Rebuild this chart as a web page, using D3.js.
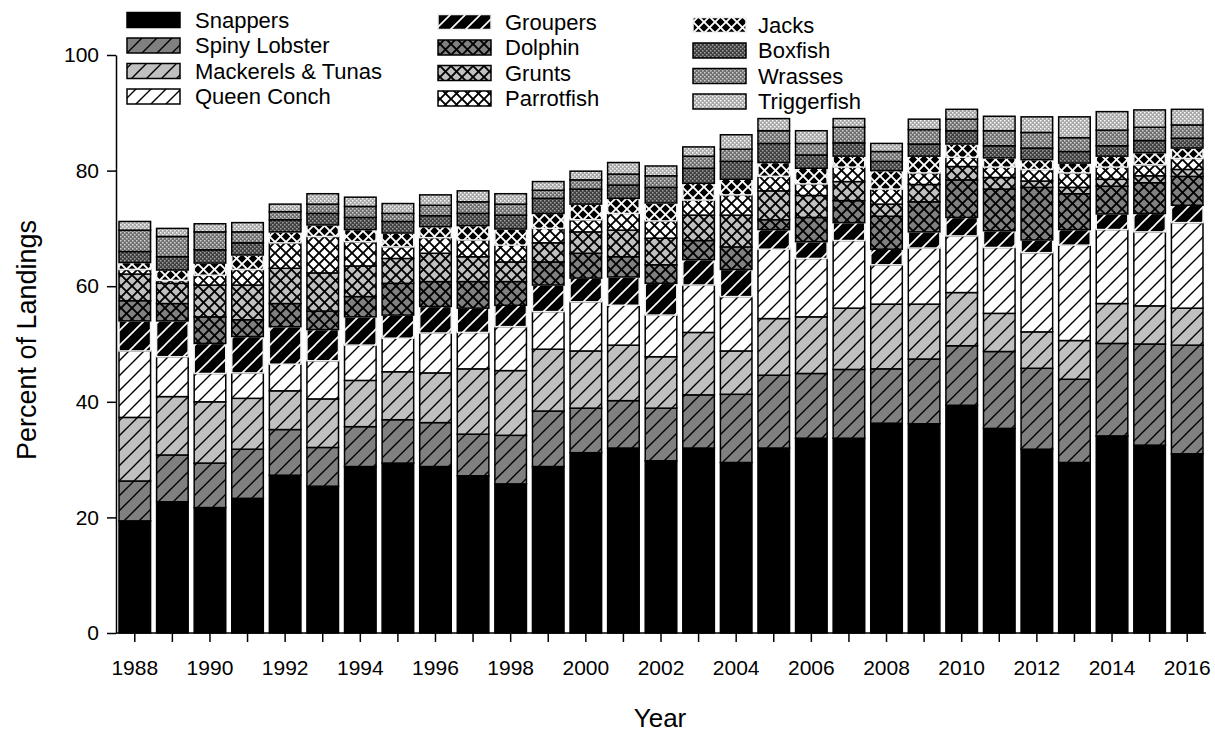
<!DOCTYPE html>
<html><head><meta charset="utf-8">
<script src="https://cdn.jsdelivr.net/npm/d3@7"></script>
<style>
html,body{margin:0;padding:0;background:#fff;}
svg{display:block;font-family:"Liberation Sans",Arial,sans-serif;}
</style></head><body>
<svg id="chart" width="1215" height="732"></svg>
<script>
// Share of total landings (%) by species group, 1988-2016
const years = [1988,1989,1990,1991,1992,1993,1994,1995,1996,1997,1998,1999,2000,2001,2002,
               2003,2004,2005,2006,2007,2008,2009,2010,2011,2012,2013,2014,2015,2016];

const snappers     = [19.4,22.7,21.7,23.3,27.3,25.4,28.8,29.4,28.8,27.2,25.8,28.8,31.2,32.0,29.8,32.0,29.5,32.0,33.7,33.7,36.3,36.2,39.4,35.4,31.8,29.5,34.1,32.5,31.0];
const spinyLobster = [6.9,8.1,7.7,8.5,7.9,6.7,6.9,7.5,7.6,7.2,8.4,9.6,7.7,8.2,9.1,9.2,11.8,12.6,11.2,11.9,9.4,11.2,10.3,13.3,14.0,14.4,16.0,17.5,18.8];
const mackerels    = [11.0,10.1,10.6,8.8,6.7,8.4,8.0,8.3,8.6,11.3,11.2,10.7,9.9,9.6,8.9,10.8,7.5,9.8,9.8,10.6,11.2,9.5,9.2,6.6,6.3,6.7,6.9,6.6,6.4];
const queenConch   = [11.5,6.9,4.9,4.4,4.6,6.6,6.1,5.8,6.9,6.3,7.6,6.5,8.5,6.9,7.2,8.2,9.4,12.0,10.1,11.7,6.8,9.7,9.8,11.4,13.7,16.5,12.8,12.8,14.8];
const groupers     = [5.2,6.2,5.2,6.3,6.5,5.4,4.9,4.0,4.6,4.2,3.7,4.6,4.1,4.9,5.5,4.4,4.7,3.4,2.9,3.1,2.7,2.8,3.2,2.9,2.2,2.7,2.7,3.2,3.0];
const dolphin      = [3.5,3.0,4.6,2.9,4.0,3.2,3.5,5.5,4.3,4.6,4.1,4.0,4.3,3.5,3.2,3.3,3.9,1.7,4.2,3.8,5.7,5.2,6.5,7.2,9.1,6.2,4.8,5.3,5.0];
const grunts       = [4.6,3.5,5.5,6.0,6.1,6.6,5.3,4.3,4.9,4.3,3.4,3.3,3.7,4.6,4.6,4.4,5.5,5.0,3.8,3.3,2.1,3.0,2.3,2.0,1.1,1.1,1.2,1.2,1.2];
const parrotfish   = [0.8,0.5,1.7,2.7,4.4,6.3,4.2,2.0,2.7,2.9,2.9,2.5,2.1,2.9,3.0,2.6,3.5,2.5,2.0,2.5,2.6,2.0,1.6,1.8,2.0,2.5,2.1,1.9,1.9];
const jacks        = [1.2,1.8,2.1,2.5,1.9,2.0,2.1,2.4,1.9,2.5,2.8,2.6,2.7,2.6,3.1,2.9,2.7,2.4,2.7,1.9,3.2,2.9,2.3,1.6,1.7,1.7,1.9,2.1,1.8];
const boxfish      = [1.9,2.3,2.3,2.1,2.1,2.0,2.1,2.0,1.9,2.1,2.4,2.6,2.6,2.3,2.7,2.6,3.1,3.3,2.3,2.3,1.6,2.1,2.3,2.1,2.0,2.0,1.8,2.1,1.7];
const wrasses      = [3.7,3.5,3.1,1.9,1.4,1.6,1.9,1.4,1.8,2.0,1.9,1.4,1.6,1.9,2.0,2.1,2.1,2.2,2.0,2.7,1.7,2.5,2.0,2.6,2.7,2.4,2.7,2.3,2.3];
const triggerfish  = [1.5,1.4,1.4,1.6,1.3,1.8,1.6,1.7,1.8,1.9,1.8,1.5,1.5,2.0,1.7,1.6,2.5,2.1,2.2,1.5,1.4,1.8,1.7,2.5,2.7,3.6,3.2,3.0,2.7];

const speciesNames = ["Snappers","Spiny Lobster","Mackerels & Tunas","Queen Conch",
                      "Groupers","Dolphin","Grunts","Parrotfish",
                      "Jacks","Boxfish","Wrasses","Triggerfish"];
const speciesValues = [snappers,spinyLobster,mackerels,queenConch,groupers,dolphin,
                       grunts,parrotfish,jacks,boxfish,wrasses,triggerfish];
const yTicks = [0,20,40,60,80,100];
const xLabelYears = [1988,1990,1992,1994,1996,1998,2000,2002,2004,2006,2008,2010,2012,2014,2016];

// Fill/edge styling for each species
const styles = [
  {fill:"#000000", edge:"#000"},
  {fill:"url(#diagMid)", edge:"#000"},
  {fill:"url(#diagLight)", edge:"#000"},
  {fill:"url(#diagWhite)", edge:"#000"},
  {fill:"url(#diagBlack)", edge:"#f0f0f0"},
  {fill:"url(#crossMid)", edge:"#000"},
  {fill:"url(#crossLight)", edge:"#000"},
  {fill:"url(#crossWhite)", edge:"#000"},
  {fill:"url(#crossBlack)", edge:"#f0f0f0"},
  {fill:"url(#texDark)", edge:"#000"},
  {fill:"url(#texMid)", edge:"#000"},
  {fill:"url(#texLight)", edge:"#000"}
];

const svg = d3.select("#chart");
const defs = svg.append("defs");

function hatch(id, bg, fg, cross, size, sw) {
  const p = defs.append("pattern").attr("id", id)
    .attr("patternUnits", "userSpaceOnUse").attr("width", size).attr("height", size);
  p.append("rect").attr("width", size).attr("height", size).attr("fill", bg);
  const s = size, h = size / 2;
  p.append("path")
    .attr("d", `M0,${s}L${s},0M${-h},${h}L${h},${-h}M${h},${s + h}L${s + h},${h}`)
    .attr("stroke", fg).attr("stroke-width", sw).attr("fill", "none");
  if (cross) {
    p.append("path")
      .attr("d", `M0,0L${s},${s}M${-h},${h}L${h},${s + h}M${h},${-h}L${s + h},${h}`)
      .attr("stroke", fg).attr("stroke-width", sw).attr("fill", "none");
  }
}
function texture(id, bg, dot) {
  const p = defs.append("pattern").attr("id", id)
    .attr("patternUnits", "userSpaceOnUse").attr("width", 4).attr("height", 4);
  p.append("rect").attr("width", 4).attr("height", 4).attr("fill", bg);
  [[0,0],[2,2]].forEach(([x,y]) =>
    p.append("rect").attr("x", x).attr("y", y).attr("width", 1.5).attr("height", 1.5).attr("fill", dot));
}
hatch("diagMid", "#808080", "#000", false, 15, 1.4);
hatch("diagLight", "#c0c0c0", "#000", false, 15, 1.4);
hatch("diagWhite", "#ffffff", "#000", false, 15, 1.4);
hatch("diagBlack", "#000000", "#fff", false, 15, 1.6);
hatch("crossMid", "#808080", "#000", true, 11, 1.9);
hatch("crossLight", "#c0c0c0", "#000", true, 11, 1.9);
hatch("crossWhite", "#ffffff", "#000", true, 11, 1.9);
hatch("crossBlack", "#000000", "#fff", true, 11, 1.9);
texture("texDark", "#404040", "#a0a0a0");
texture("texMid", "#707070", "#d0d0d0");
texture("texLight", "#a8a8a8", "#f8f8f8");

// Scales
const x = d3.scaleBand().domain(years).range([116, 1206]).paddingInner(0.12).paddingOuter(0.06);
const y = d3.scaleLinear().domain([0, 100]).range([633, 55]);

// Stacked layout
const rows = years.map((yr, i) => {
  const r = {year: yr};
  speciesNames.forEach((n, k) => r[n] = speciesValues[k][i]);
  return r;
});
const series = d3.stack().keys(speciesNames)(rows);

const bars = svg.append("g");
series.forEach((s, k) => {
  bars.append("g")
    .selectAll("rect").data(s).join("rect")
    .attr("x", d => x(d.data.year) + 0.75)
    .attr("width", x.bandwidth() - 1.5)
    .attr("y", d => y(d[1]))
    .attr("height", d => y(d[0]) - y(d[1]))
    .attr("fill", styles[k].fill)
    .attr("stroke", styles[k].edge)
    .attr("stroke-width", 1.5);
});

// Axes
const axisFont = 21;
const xAxis = svg.append("g").attr("transform", "translate(0,633)")
  .call(d3.axisBottom(x).tickSizeInner(9).tickSizeOuter(0).tickPadding(18)
    .tickFormat(d => xLabelYears.includes(d) ? String(d) : ""));
xAxis.select(".domain").attr("d", "M116,0H1206").attr("stroke", "#000").attr("stroke-width", 1.5);
xAxis.selectAll(".tick line").attr("stroke", "#000").attr("stroke-width", 1.5);
xAxis.selectAll("text").attr("font-size", axisFont).attr("fill", "#000")
  .attr("font-family", "Liberation Sans, Arial, sans-serif");

const yAxis = svg.append("g").attr("transform", "translate(116,0)")
  .call(d3.axisLeft(y).tickValues(yTicks).tickSizeInner(9).tickSizeOuter(0).tickPadding(8));
yAxis.select(".domain").attr("stroke", "#000").attr("stroke-width", 1.5);
yAxis.selectAll(".tick line").attr("stroke", "#000").attr("stroke-width", 1.5);
yAxis.selectAll("text").attr("font-size", axisFont).attr("fill", "#000")
  .attr("font-family", "Liberation Sans, Arial, sans-serif");

svg.append("text").attr("x", 660).attr("y", 727).attr("text-anchor", "middle")
  .attr("font-size", 26).text("Year");
svg.append("text").attr("transform", "translate(36,340) rotate(-90)").attr("text-anchor", "middle")
  .attr("font-size", 27).text("Percent of Landings");

// Legend: three columns of four entries
const legCols = [{sx:127, tx:195, y0:20}, {sx:438, tx:505, y0:22}, {sx:693, tx:758, y0:25}];
const legend = svg.append("g");
speciesNames.forEach((n, k) => {
  const c = legCols[Math.floor(k / 4)], row = k % 4;
  const cy = c.y0 + row * 25.5;
  legend.append("rect").attr("x", c.sx).attr("y", cy - 7.5).attr("width", 53).attr("height", 15)
    .attr("fill", styles[k].fill).attr("stroke", styles[k].edge).attr("stroke-width", 1.5);
  legend.append("text").attr("x", c.tx).attr("y", cy).attr("dy", "0.35em")
    .attr("font-size", 22).text(n);
});
</script>
</body></html>
